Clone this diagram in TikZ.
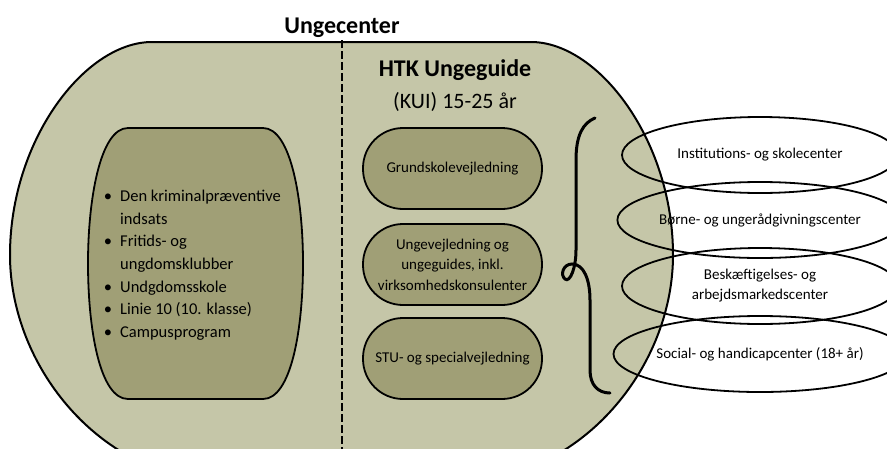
\documentclass[tikz,border=0pt]{standalone}
\usepackage{fontspec}
\setmainfont{Carlito}
\usetikzlibrary{shapes.geometric}
\definecolor{outerfill}{RGB}{197,198,168}
\definecolor{innerfill}{RGB}{160,159,118}
\begin{document}
\begin{tikzpicture}[x=1pt,y=-1pt,
  outline/.style={draw=black, line width=2pt},
  midbox/.style={draw=black, line width=1.8pt, fill=innerfill, rounded corners=40pt,
    minimum width=179pt, minimum height=81pt, inner sep=0pt, align=center,
    font=\fontsize{15}{20.5}\selectfont},
  partner/.style={draw=black, line width=1.8pt, ellipse, minimum width=276pt,
    minimum height=76pt, inner sep=0pt, align=center, font=\fontsize{15}{20}\selectfont},
  listline/.style={anchor=base west, inner sep=0pt, font=\fontsize{16.5}{20}\selectfont},
  titletext/.style={anchor=base, inner sep=0pt, font=\fontsize{24}{28}\selectfont\bfseries},
  bracepath/.style={draw=black, line width=3pt, line cap=round},
  ]
\useasboundingbox (0,0) rectangle (887,448);
\clip (0,0) rectangle (887,448);

% outer Ungecenter shape
\path[outline, fill=outerfill]
  (152,42) -- (531,42)
  .. controls (598,42) and (673,140) .. (673,255)
  .. controls (673,360) and (593,465) .. (483,480)
  -- (200,480)
  .. controls (90,465) and (10,360) .. (10,255)
  .. controls (10,140) and (85,42) .. (152,42) -- cycle;

% dashed divider
\coordinate (dtop) at (342,40);
\coordinate (dbot) at (342,450);
\draw[line width=2pt, dash pattern=on 7.5pt off 3.5pt] (dtop) -- (dbot);

% left inner shape
\path[draw=black, line width=1.8pt, fill=innerfill]
  (128,128) -- (263,128)
  .. controls (291,128) and (303,200) .. (303,263)
  .. controls (303,330) and (291,399) .. (263,399)
  -- (128,399)
  .. controls (100,399) and (88,330) .. (88,263)
  .. controls (88,200) and (100,128) .. (128,128) -- cycle;

\node[listline] (l1) at (120,201.7) {\llap{\textbullet\hspace{8pt}}Den kriminalpræventive};
\node[listline] (l2) at (120,224.3) {indsats};
\node[listline] (l3) at (120,246.9) {\llap{\textbullet\hspace{8pt}}Fritids- og};
\node[listline] (l4) at (120,269.5) {ungdomsklubber};
\node[listline] (l5) at (120,292.1) {\llap{\textbullet\hspace{8pt}}Undgdomsskole};
\node[listline] (l6) at (120,314.7) {\llap{\textbullet\hspace{8pt}}Linie 10 (10. klasse)};
\node[listline] (l7) at (120,337.3) {\llap{\textbullet\hspace{8pt}}Campusprogram};

% titles
\node[titletext] (title) at (342,33.5) {Ungecenter};
\node[titletext] (htk) at (455,76) {HTK Ungeguide};
\node[anchor=base, inner sep=0pt, font=\fontsize{22}{26}\selectfont] (kui) at (455,108) {(KUI) 15-25 år};

% middle boxes
\node[midbox] (b1) at (452.5,168.5) {Grundskolevejledning};
\node[midbox] (b2) at (452.5,264.5) {Ungevejledning og\\ungeguides, inkl.\\virksomhedskonsulenter};
\node[midbox] (b3) at (452.5,358.5) {STU- og specialvejledning};

% brace
\path[bracepath]
  (595,118) .. controls (583,123) and (576,135) .. (576,160)
  -- (576,250)
  .. controls (576,268) and (570,283) .. (565,279)
  .. controls (560,275) and (563,264) .. (572,264)
  .. controls (584,264) and (590,280) .. (590,300)
  -- (590,370)
  .. controls (590,385) and (598,393) .. (610,393);

% partner ellipses
\node[partner] (e1) at (760,155) {Institutions- og skolecenter};
\node[partner] (e2) at (760,220) {Børne- og ungerådgivningscenter};
\node[partner] (e3) at (760,286) {Beskæftigelses- og\\arbejdsmarkedscenter};
\node[partner] (e4) at (760,354) {Social- og handicapcenter (18+ år)};
\end{tikzpicture}
\end{document}
